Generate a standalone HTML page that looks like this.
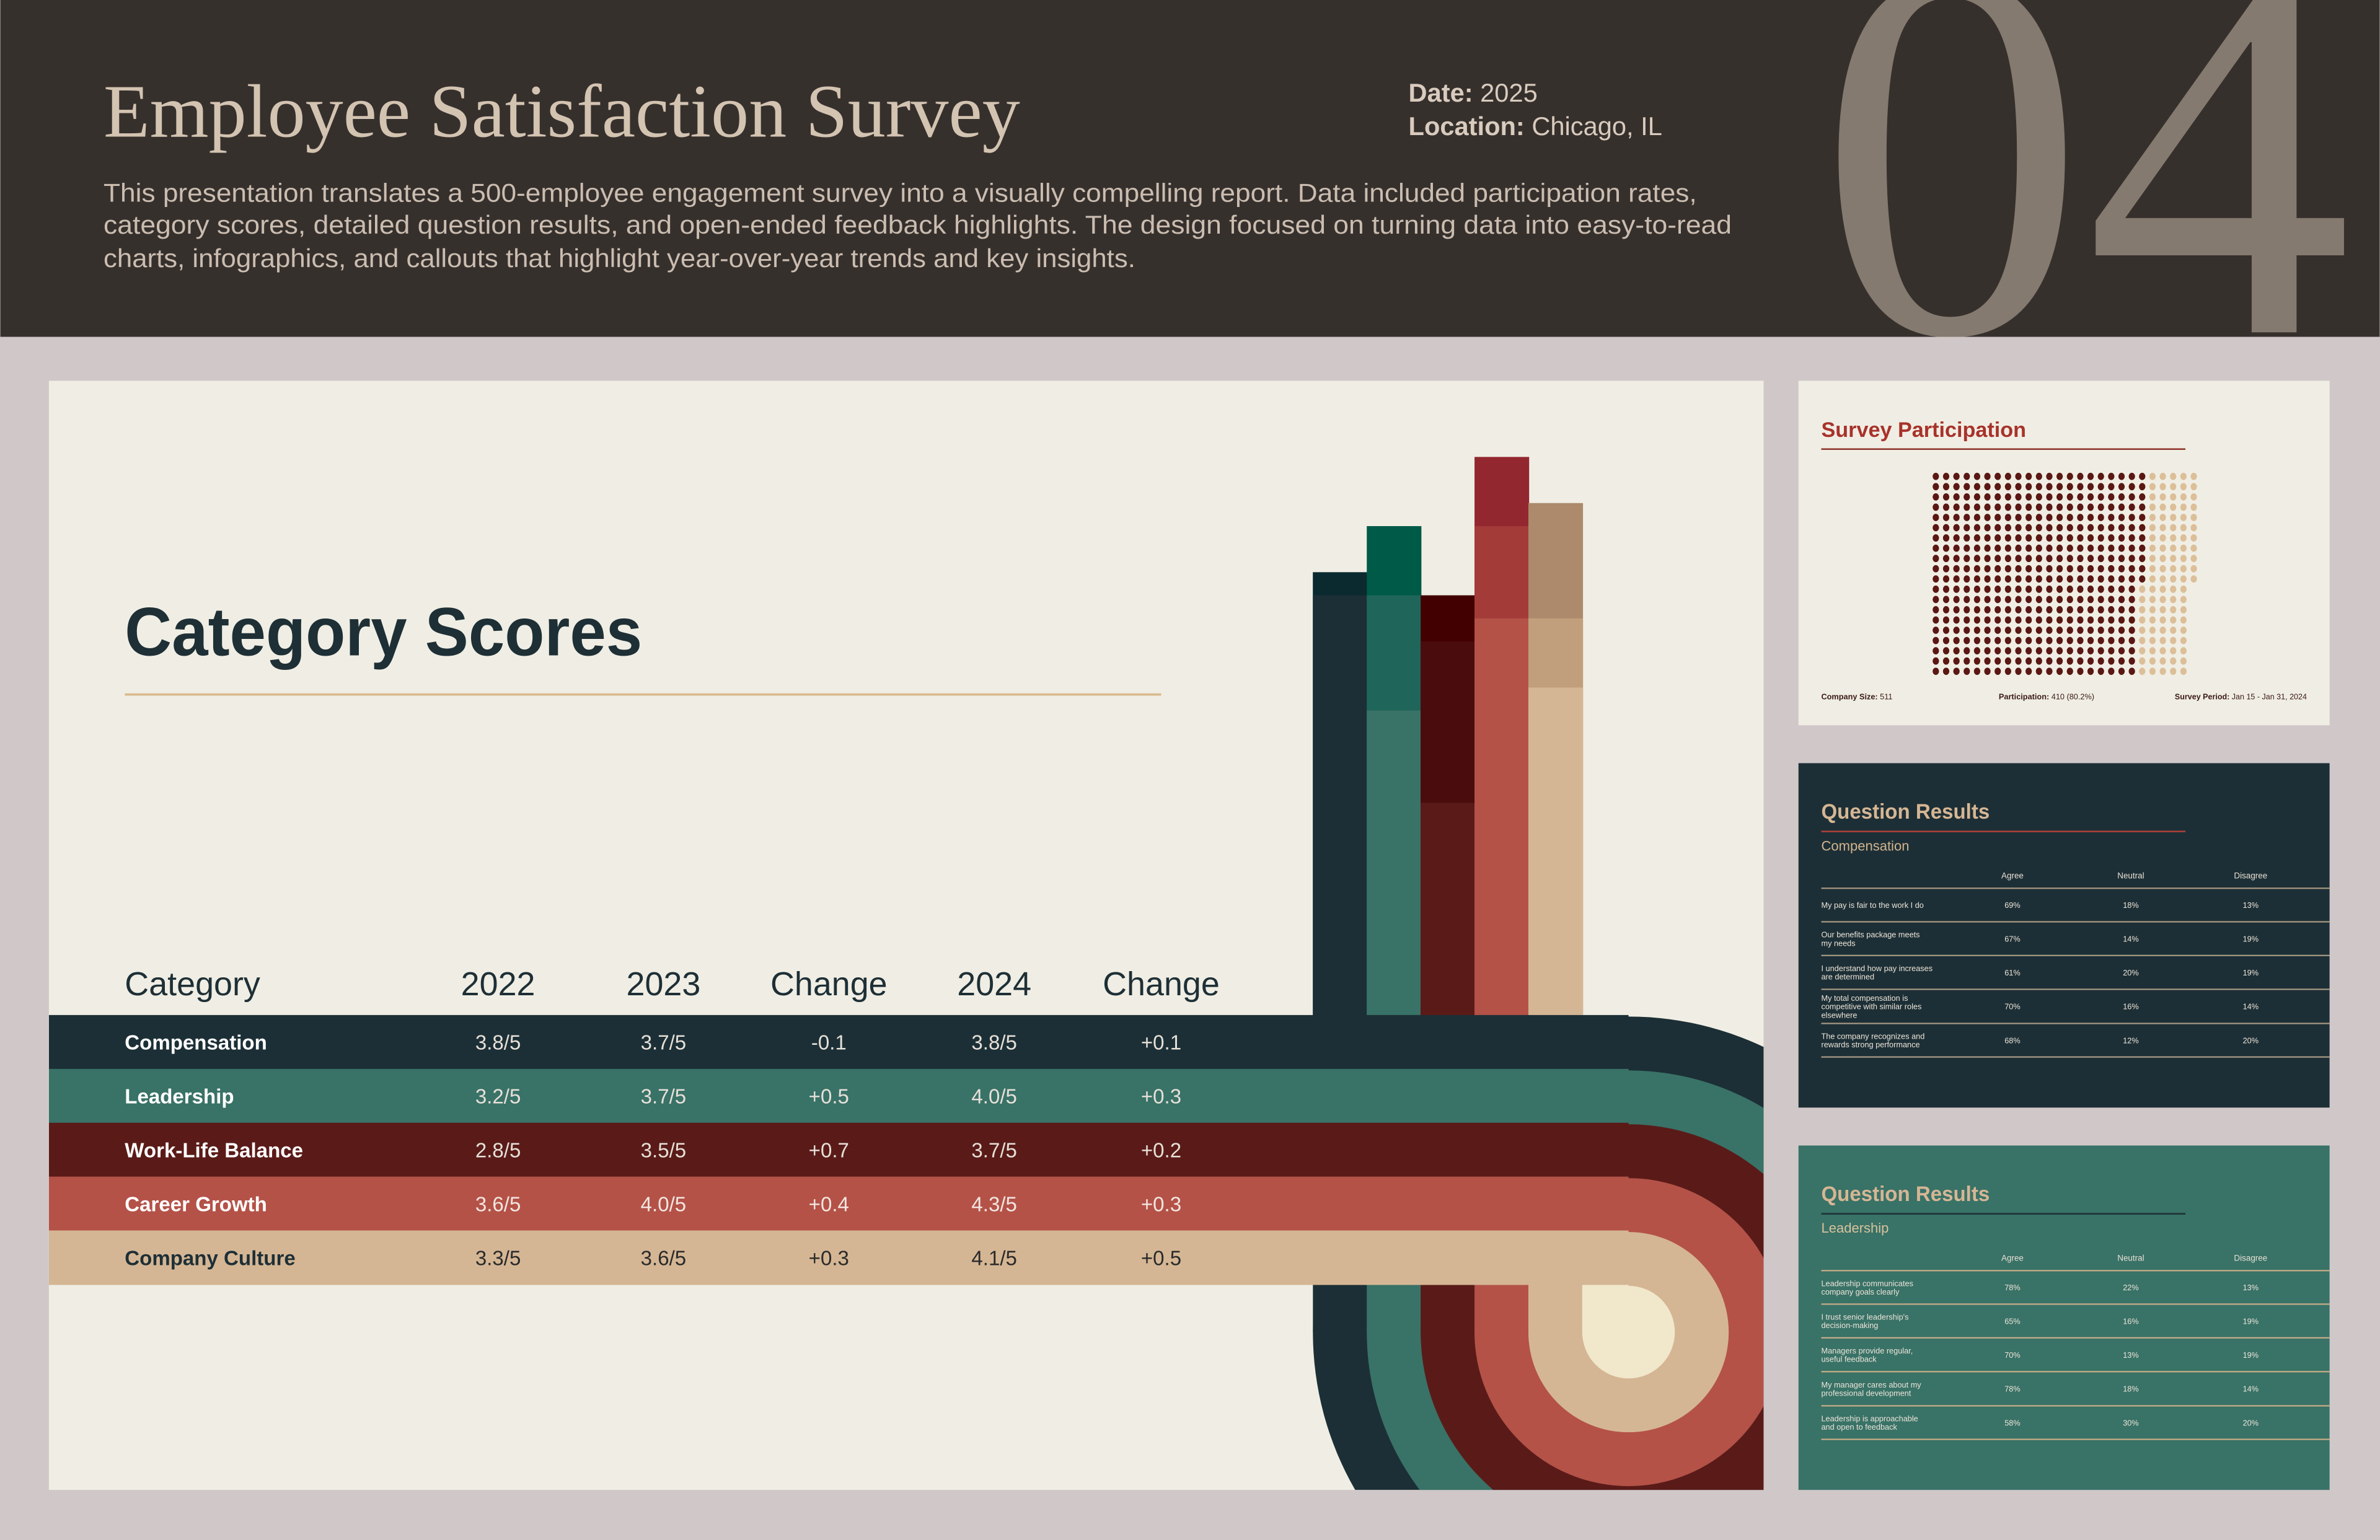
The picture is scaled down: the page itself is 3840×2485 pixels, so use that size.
<!DOCTYPE html>
<html><head><meta charset="utf-8"><title>Employee Satisfaction Survey</title>
<style>
html,body{margin:0;padding:0;background:#d0c8c8;width:3840px;height:2485px;overflow:hidden;}
svg{display:block;}
text{font-family:"Liberation Sans",sans-serif;}
.serif{font-family:"Liberation Serif",serif;}
.narrow{font-family:"Liberation Sans Narrow","Liberation Sans",sans-serif;}
</style></head>
<body>
<svg id="root" width="3840" height="2485" viewBox="0 0 1568 1015" xmlns="http://www.w3.org/2000/svg">
  <defs>
    <clipPath id="panelClip"><rect x="32" y="251" width="1130" height="731"/></clipPath>
    <clipPath id="headClip"><rect x="0" y="0" width="1568" height="222"/></clipPath>
  </defs>
  <rect width="1568" height="1015" fill="#d0c8c8"/>
  <g>
    <rect x="0" y="0" width="1568" height="222" fill="#36302d"/>
    <text class="serif" x="1198" y="219" font-size="352" fill="#857a6f" clip-path="url(#headClip)">04</text>
    <text class="serif" x="68" y="90" font-size="50" fill="#d3c3b1" textLength="604" lengthAdjust="spacingAndGlyphs">Employee Satisfaction Survey</text>
    <g fill="#cbbdb0" font-size="17">
      <text x="68" y="133" textLength="1050" lengthAdjust="spacingAndGlyphs">This presentation translates a 500-employee engagement survey into a visually compelling report. Data included participation rates,</text>
      <text x="68" y="154" textLength="1073" lengthAdjust="spacingAndGlyphs">category scores, detailed question results, and open-ended feedback highlights. The design focused on turning data into easy-to-read</text>
      <text x="68" y="176" textLength="680" lengthAdjust="spacingAndGlyphs">charts, infographics, and callouts that highlight year-over-year trends and key insights.</text>
    </g>
    <text x="928" y="67" font-size="17" fill="#d9cbbd"><tspan font-weight="bold">Date:</tspan> 2025</text>
    <text x="928" y="89" font-size="17" fill="#d9cbbd"><tspan font-weight="bold">Location:</tspan> Chicago, IL</text>
  </g>

  <g>
    <rect x="32" y="251" width="1130" height="731" fill="#f0eee4"/>
    <g id="chart" clip-path="url(#panelClip)"></g>
    <text x="82" y="432" font-size="45" font-weight="bold" fill="#1e2f36" textLength="341" lengthAdjust="spacingAndGlyphs">Category Scores</text>
    <rect x="82" y="457" width="683" height="1.5" fill="#d9b98c"/>
    <g id="tableHead" fill="#1e2f36" font-size="22"></g>
  </g>

  <g>
    <rect x="1185" y="251" width="350" height="227" fill="#f0eee4"/>
    <text class="narrow" x="1200" y="288" font-size="14" font-weight="bold" fill="#a8322a" textLength="135" lengthAdjust="spacingAndGlyphs">Survey Participation</text>
    <rect x="1200" y="295.5" width="240" height="1" fill="#8b2d25"/>
    <g id="waffle"></g>
    <text class="narrow" x="1200" y="461" font-size="5.2" fill="#3a1a16"><tspan font-weight="bold">Company Size:</tspan> 511</text>
    <text class="narrow" x="1317" y="461" font-size="5.2" fill="#3a1a16"><tspan font-weight="bold">Participation:</tspan> 410 (80.2%)</text>
    <text class="narrow" x="1433" y="461" font-size="5.2" fill="#3a1a16" textLength="87" lengthAdjust="spacingAndGlyphs"><tspan font-weight="bold">Survey Period:</tspan> Jan 15 - Jan 31, 2024</text>
  </g>

  <g id="card2">
    <rect x="1185" y="503" width="350" height="227" fill="#1d2f36"/>
  </g>
  <g id="card3">
    <rect x="1185" y="755" width="350" height="227" fill="#397267"/>
  </g>
</svg>
<script>
// ---- Category scores data ----
const categories = ["Compensation","Leadership","Work-Life Balance","Career Growth","Company Culture"];
const scores2022 = [3.8, 3.2, 2.8, 3.6, 3.3];
const scores2023 = [3.7, 3.7, 3.5, 4.0, 3.6];
const scores2024 = [3.8, 4.0, 3.7, 4.3, 4.1];
const change2023 = ["-0.1","+0.5","+0.7","+0.4","+0.3"];
const change2024 = ["+0.1","+0.3","+0.2","+0.3","+0.5"];
const headers = ["Category","2022","2023","Change","2024","Change"];
// ---- Participation data ----
const rowLengths = [26,26,26,26,26,26,26,26,26,26,26,25,25,25,25,25,25,25,25,25];
const participantsPerRow = [21,21,21,21,21,21,21,21,21,21,21,20,20,20,20,20,20,20,20,20];
// ---- Question results ----
const compQuestions = [["My pay is fair to the work I do"],["Our benefits package meets","my needs"],["I understand how pay increases","are determined"],["My total compensation is","competitive with similar roles","elsewhere"],["The company recognizes and","rewards strong performance"]];
const compAgree = [69,67,61,70,68];
const compNeutral = [18,14,20,16,12];
const compDisagree = [13,19,19,14,20];
const leadQuestions = [["Leadership communicates","company goals clearly"],["I trust senior leadership's","decision-making"],["Managers provide regular,","useful feedback"],["My manager cares about my","professional development"],["Leadership is approachable","and open to feedback"]];
const leadAgree = [78,65,70,78,58];
const leadNeutral = [22,16,13,18,30];
const leadDisagree = [13,19,19,14,20];

const NS = "http://www.w3.org/2000/svg";
function mk(tag, attrs, parent){const e=document.createElementNS(NS,tag);for(const k in attrs)e.setAttribute(k,attrs[k]);parent.appendChild(e);return e;}

const rowTop = 669, rowH = 35.5, tableLeft = 32;
const cx = 1073, cy = 878, panelBottom = 982;
const colX = [865, 900.5, 936, 971.5, 1007];
const colW = 35.5;
const baseVal = 1.88, unitPx = 152;
function yScale(v){ return rowTop - (v - baseVal) * unitPx; }
const bandColors = ["#1c2f36","#397267","#5a1b18","#b45248","#d5b694"];
const shadeColors = [["#1c2f36","#0a2a30","#0a2a30"],["#397267","#20655a","#005a48"],["#5a1b18","#4b0c0e","#420000"],["#b45248","#a33b38","#93272f"],["#d5b694","#c19f7c","#ad8a6c"]];
const textColors = ["#ffffff","#ffffff","#ffffff","#ffffff","#1e2f36"];
const valueColors = ["#e6e0d8","#e6e0d8","#e6e0d8","#f3e6e0","#2a2a2a"];
const colCenters = [null,328,437,546,655,765];

function loopPath(r){
  const d = panelBottom - cy;
  if (r <= d) return 'M'+(cx-r)+','+cy+' A'+r+','+r+' 0 1 1 '+(cx+r)+','+cy+' A'+r+','+r+' 0 1 1 '+(cx-r)+','+cy+' Z';
  const h = Math.sqrt(r*r - d*d);
  return 'M'+(cx-h)+','+panelBottom+' A'+r+','+r+' 0 1 1 '+(cx+h)+','+panelBottom+' Z';
}

const chart = document.getElementById('chart');
for (let i=0;i<categories.length;i++){
  const vals=[scores2022[i],scores2023[i],scores2024[i]].slice().sort((a,b)=>b-a);
  for (let k=0;k<3;k++){
    const top=yScale(vals[k]);
    const r=mk('rect',{x:colX[i],y:top,width:colW+0.5,height:rowTop-top+1,fill:shadeColors[i][2-k]},chart);
    
    
  }
}
for (let i=0;i<categories.length;i++){
  const r = cx - colX[i];
  const c=mk('path',{d:loopPath(r),fill:bandColors[i]},chart);
  
  
  const s=mk('rect',{x:colX[i],y:rowTop+rowH*5-1,width:r,height:cy-(rowTop+rowH*5)+1,fill:bandColors[i]},chart);
  
  
}
const core=mk('path',{d:loopPath(cx-(colX[4]+colW)),fill:"#f1e8cc"},chart);


const coreStem=mk('rect',{x:colX[4]+colW,y:rowTop+rowH*5,width:cx-(colX[4]+colW),height:cy-(rowTop+rowH*5),fill:"#f1e8cc"},chart);


for (let i=0;i<categories.length;i++){
  const y=rowTop+i*rowH;
  const g=mk('g',{},chart);
  
  
  mk('rect',{x:tableLeft,y:y,width:cx-tableLeft,height:rowH+0.4,fill:bandColors[i]},g);
  const lbl=mk('text',{x:82,y:y+rowH/2+5,'font-size':13.5,'font-weight':'bold',fill:textColors[i]},g);
  lbl.textContent=categories[i];
  const vals=[scores2022[i].toFixed(1)+"/5",scores2023[i].toFixed(1)+"/5",change2023[i],scores2024[i].toFixed(1)+"/5",change2024[i]];
  for(let k=0;k<5;k++){
    const t=mk('text',{x:colCenters[k+1],y:y+rowH/2+5,'font-size':13.5,'text-anchor':'middle',fill:valueColors[i]},g);
    t.textContent=vals[k];
  }
}
const th=document.getElementById('tableHead');
for(let k=0;k<headers.length;k++){
  const t=mk('text',k===0?{x:82,y:656}:{x:colCenters[k],y:656,'text-anchor':'middle'},th);
  
  
  t.textContent=headers[k];
}

const wf=document.getElementById('waffle');
const wx0=1275.5, wy0=314, wdx=6.8, wdy=6.76;
for(let r=0;r<rowLengths.length;r++){
  for(let c=0;c<rowLengths[r];c++){
    const d=mk('ellipse',{cx:wx0+c*wdx,cy:wy0+r*wdy,rx:2.1,ry:2.4,fill:c<participantsPerRow[r]?"#5a1713":"#dcbf99"},wf);
    
    
  }
}

function buildCard(id, y0, subtitle, lineColor, subColor, ruleColor, qs, ag, ne, di){
  const g=document.getElementById(id);
  const t=mk('text',{class:'narrow',x:1200,y:y0+36.5,'font-size':14,'font-weight':'bold',fill:'#d5b694',textLength:111,lengthAdjust:'spacingAndGlyphs'},g);
  
  
  t.textContent="Question Results";
  mk('rect',{x:1200,y:y0+44.5,width:240,height:1,fill:ruleColor},g);
  const s=mk('text',{class:'narrow',x:1200,y:y0+57.5,'font-size':9,fill:subColor},g);
  
  
  s.textContent=subtitle;
  const cols=[1326,1404,1483], names=["Agree","Neutral","Disagree"];
  for(let k=0;k<3;k++){const h=mk('text',{class:'narrow',x:cols[k],y:y0+76,'font-size':5.5,'text-anchor':'middle',fill:'#e8e0d4'},g);h.textContent=names[k];}
  const lineY=[82.4,104.5,126.7,149,171.5,193.6];
  for(const ly of lineY) mk('rect',{x:1200,y:y0+ly-0.4,width:335,height:0.9,fill:lineColor},g);
  for(let i=0;i<qs.length;i++){
    const mid=y0+(lineY[i]+lineY[i+1])/2;
    const n=qs[i].length;
    for(let j=0;j<n;j++){
      const q=mk('text',{class:'narrow',x:1200,y:mid+2+(j-(n-1)/2)*5.6,'font-size':5.2,fill:'#ece4d8'},g);
      
      
      q.textContent=qs[i][j];
    }
    const v=[ag[i],ne[i],di[i]];
    for(let k=0;k<3;k++){const p=mk('text',{class:'narrow',x:cols[k],y:mid+2,'font-size':5.2,'text-anchor':'middle',fill:'#ece4d8'},g);p.textContent=v[k]+"%";}
  }
}
buildCard('card2',503,'Compensation','#a89a84','#d2b48f','#b0403a',compQuestions,compAgree,compNeutral,compDisagree);
buildCard('card3',755,'Leadership','#c9ae88','#d8c29c','#1d2f36',leadQuestions,leadAgree,leadNeutral,leadDisagree);
</script>
</body></html>
